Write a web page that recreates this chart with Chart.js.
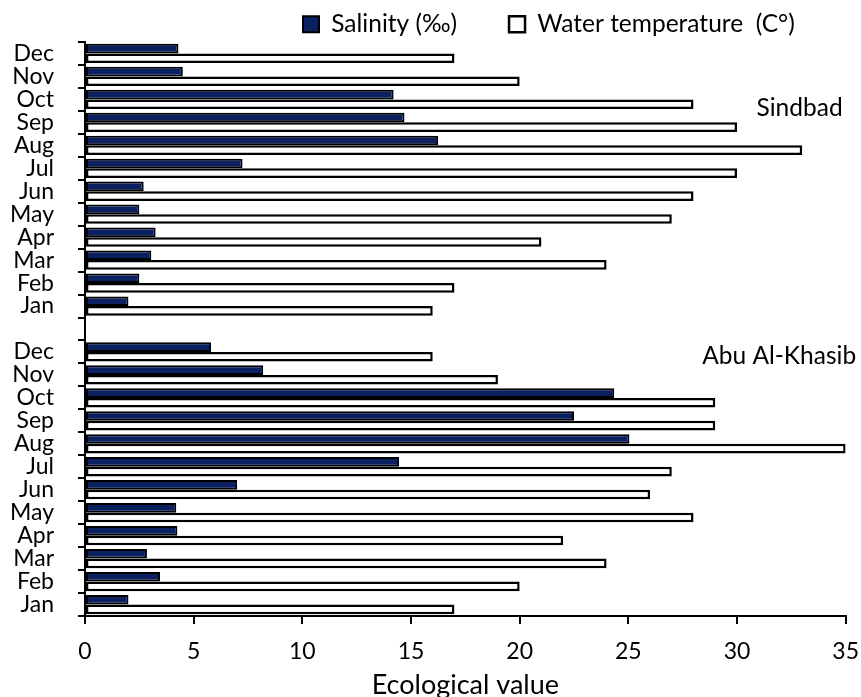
<!DOCTYPE html>
<html>
<head>
<meta charset="utf-8">
<script src="https://cdn.jsdelivr.net/npm/chart.js@4.4.1/dist/chart.umd.min.js"></script>
<style>
  html, body { margin: 0; padding: 0; background: #fff; }
  #wrap { width: 861px; height: 697px; }
</style>
</head>
<body>
<div id="wrap"><canvas id="chart"></canvas></div>
<script>
// months Jan..Dec
const months = ['Jan', 'Feb', 'Mar', 'Apr', 'May', 'Jun', 'Jul', 'Aug', 'Sep', 'Oct', 'Nov', 'Dec'];
// Sindbad station
const sindbadSalinity = [2.0, 2.5, 3.05, 3.25, 2.5, 2.7, 7.25, 16.25, 14.7, 14.2, 4.5, 4.3];
const sindbadTemp = [16, 17, 24, 21, 27, 28, 30, 33, 30, 28, 20, 17];
// Abu Al-Khasib station
const abuSalinity = [2.0, 3.45, 2.85, 4.25, 4.2, 7.0, 14.45, 25.05, 22.5, 24.35, 8.2, 5.8];
const abuTemp = [17, 20, 24, 22, 28, 26, 27, 35, 29, 29, 19, 16];
const xTicks = [0, 5, 10, 15, 20, 25, 30, 35];
const stations = ['Sindbad', 'Abu Al-Khasib'];

// top to bottom: Sindbad Dec..Jan, empty row, Abu Al-Khasib Dec..Jan
const rev = a => a.slice().reverse();
const labels = [...rev(months), '', ...rev(months)];
const salinity = [...rev(sindbadSalinity), null, ...rev(abuSalinity)];
const temperature = [...rev(sindbadTemp), null, ...rev(abuTemp)];

const LEGEND_PAD = 52;

Chart.defaults.font.family = 'Lato';
Chart.defaults.color = '#000';

// station names on the right side
const stationNames = {
  id: 'stationNames',
  afterDatasetsDraw(chart) {
    const { ctx, scales: { x, y } } = chart;
    ctx.save();
    ctx.font = '24.5px Lato';
    ctx.fillStyle = '#000';
    ctx.textBaseline = 'middle';
    ctx.fillText(stations[0], x.getPixelForValue(30.9), (y.getPixelForValue(2) + y.getPixelForValue(3)) / 2 - 3);
    ctx.fillText(stations[1], x.getPixelForValue(28.4), y.getPixelForValue(13) + 4);
    ctx.restore();
  }
};

// legend: wide gap between the two items, sits right of centre
const legendPlace = {
  id: 'legendPlace',
  beforeUpdate(chart) {
    const lg = chart.legend;
    if (lg && !lg._patched) {
      const fit = lg.fit;
      lg.fit = function () { fit.call(this); this.height = 42; };
      lg._patched = true;
    }
  },
  afterLayout(chart) {
    const lg = chart.legend;
    lg.left += 251;
    lg.right += 251;
    lg.top = 12 - LEGEND_PAD;
  }
};

new Chart(document.getElementById('chart'), {
  type: 'bar',
  data: {
    labels: labels,
    datasets: [
      {
        label: 'Salinity (‰)',
        data: salinity,
        backgroundColor: '#0a2060',
        borderColor: '#000',
        borderWidth: 2,
        borderSkipped: false,
        categoryPercentage: 0.84,
        barPercentage: 1.0
      },
      {
        label: 'Water temperature  (C°)',
        data: temperature,
        backgroundColor: '#fff',
        borderColor: '#000',
        borderWidth: 2.5,
        borderSkipped: false,
        categoryPercentage: 0.84,
        barPercentage: 1.0
      }
    ]
  },
  options: {
    indexAxis: 'y',
    responsive: true,
    maintainAspectRatio: false,
    animation: false,
    layout: { padding: { top: 0, right: 0, bottom: 0, left: 0 } },
    plugins: {
      tooltip: { enabled: false },
      legend: {
        position: 'top',
        align: 'start',
        labels: {
          font: { size: 24.5 },
          boxWidth: 16,
          boxHeight: 16,
          padding: LEGEND_PAD,
          color: '#000'
        }
      }
    },
    scales: {
      x: {
        min: 0,
        max: 35,
        afterFit: s => { s.height = 81; },
        afterBuildTicks: s => { s.ticks = xTicks.map(v => ({ value: v })); },
        ticks: { font: { size: 23, lineHeight: 2.2 }, padding: 2, color: '#000' },
        grid: { drawOnChartArea: false, tickLength: 8, color: '#000', lineWidth: 2 },
        border: { color: '#000', width: 2 },
        title: {
          display: true, text: 'Ecological value', color: '#000',
          font: { size: 27, lineHeight: 0.8 }, padding: { top: 0, bottom: 1 }
        }
      },
      y: {
        afterFit: s => { s.width = 85; },
        ticks: { font: { size: 23 }, padding: 24, color: '#000', autoSkip: false },
        grid: { drawOnChartArea: false, tickLength: 7, color: '#000', lineWidth: 2, offset: true },
        border: { color: '#000', width: 2 }
      }
    }
  },
  plugins: [stationNames, legendPlace]
});
</script>
</body>
</html>
